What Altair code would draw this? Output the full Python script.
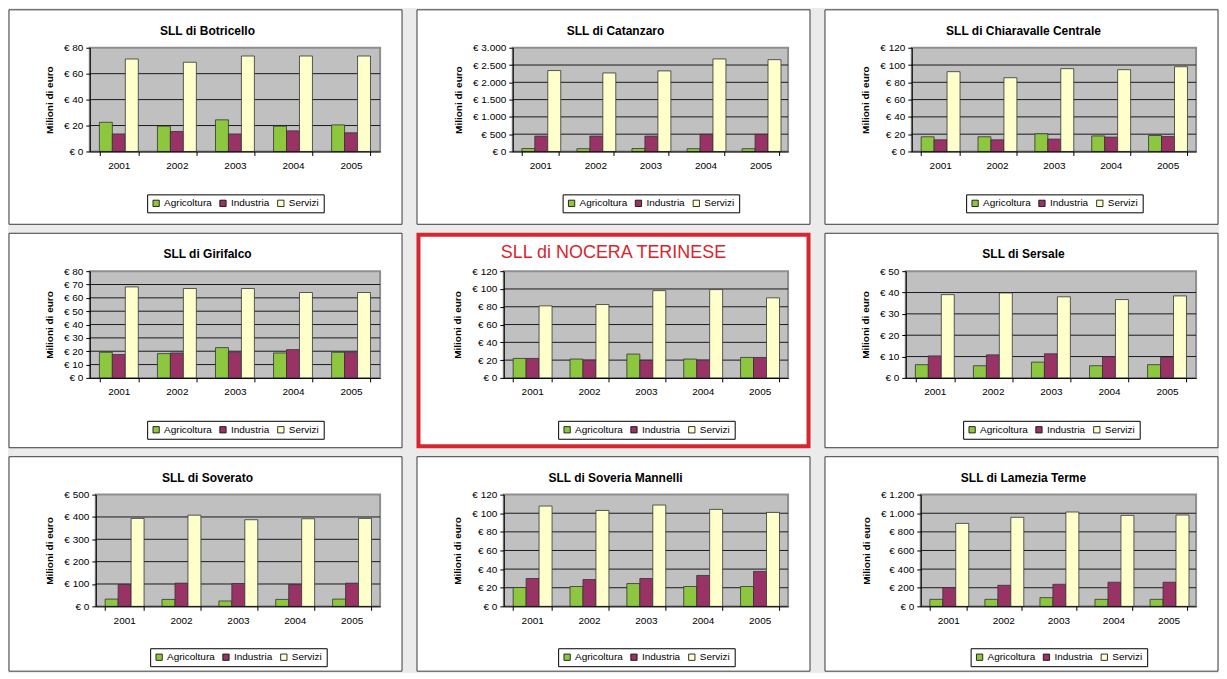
import altair as alt
import pandas as pd

years = ["2001", "2002", "2003", "2004", "2005"]
sectors = ["Agricoltura", "Industria", "Servizi"]
sector_colors = ["#8DC63F", "#993366", "#FFFFCC"]

titles = [
    "SLL di Botricello", "SLL di Catanzaro", "SLL di Chiaravalle Centrale",
    "SLL di Girifalco", "SLL di NOCERA TERINESE", "SLL di Sersale",
    "SLL di Soverato", "SLL di Soveria Mannelli", "SLL di Lamezia Terme",
]

agricoltura = [
    [22.5, 19.5, 24.4, 19.5, 20.5],
    [85, 80, 85, 80, 80],
    [17, 17, 20.5, 18, 18.5],
    [19.2, 18.2, 22.7, 18.7, 19.2],
    [21.9, 21.2, 26.8, 21.2, 23],
    [6.2, 5.7, 7.4, 5.7, 6.2],
    [32.5, 31, 24, 31, 32.5],
    [20.2, 21.3, 24.5, 21.3, 21.3],
    [75, 75, 93, 75, 75],
]
industria = [
    [13.5, 15.4, 13.5, 15.9, 14.4],
    [445, 445, 445, 495, 495],
    [13.5, 13.5, 14.3, 16.6, 17.4],
    [17.5, 18.7, 19.2, 21.2, 19.2],
    [21.9, 20, 19.7, 20, 23],
    [10.3, 10.8, 11.3, 9.9, 9.6],
    [97.6, 103.6, 102, 97.6, 103.6],
    [29.9, 28.8, 29.9, 33.2, 37.5],
    [201, 226, 237, 259, 259],
]
servizi = [
    [71.3, 68.8, 73.6, 73.6, 73.6],
    [2340, 2270, 2330, 2675, 2655],
    [92.3, 85.3, 95.8, 94.6, 98],
    [68.2, 67, 67, 64, 64],
    [81, 82.5, 98.1, 99.3, 90],
    [39, 39.8, 38, 36.7, 38.4],
    [393.5, 408, 387.6, 392, 393.5],
    [107.7, 103, 108.8, 104.1, 100.9],
    [891, 956, 1013, 977, 981],
]
y_ticks = [
    [0, 20, 40, 60, 80],
    [0, 500, 1000, 1500, 2000, 2500, 3000],
    [0, 20, 40, 60, 80, 100, 120],
    [0, 10, 20, 30, 40, 50, 60, 70, 80],
    [0, 20, 40, 60, 80, 100, 120],
    [0, 10, 20, 30, 40, 50],
    [0, 100, 200, 300, 400, 500],
    [0, 20, 40, 60, 80, 100, 120],
    [0, 200, 400, 600, 800, 1000, 1200],
]

FW, FH = 394, 215          # panel frame size
T, R = 38, 22              # plot-area top offset and right margin inside frame
ROW_H = [104, 107, 112]    # plot-area height per row
LEG_GAP = [43, 43, 42]     # gap between plot bottom and legend box per row
FONT = "Liberation Sans"


def fmt(v):
    return "€ " + f"{v:,}".replace(",", ".")


def panel(i):
    ticks = y_ticks[i]
    ymax = ticks[-1]
    nchar = max(len(fmt(t)) for t in ticks)
    L = {4: 81, 5: 87, 6: 92, 7: 96}[nchar]
    W = FW - L - R
    H = ROW_H[i // 3]
    highlight = i == 4
    sw = 4 if highlight else 1
    inset = (sw - 1) / 2

    rows = []
    for series, name in zip([agricoltura, industria, servizi], sectors):
        for y, v in zip(years, series[i]):
            rows.append({"year": y, "sector": name, "value": v})
    df = pd.DataFrame(rows)
    grid_df = pd.DataFrame({"value": ticks[1:-1]})
    one = pd.DataFrame({"a": [0]})
    yscale = alt.Scale(domain=[0, ymax], nice=False, zero=True, range=[T + H, T])
    yaxis = alt.Axis(
        values=ticks,
        labelExpr="'€ ' + replace(format(datum.value, ','), ',', '.')",
        grid=False, tickSize=4, tickColor="black", domainColor="black",
        labelFontSize=10, labelColor="black", labelPadding=3,
        title="Milioni di euro", titleFontSize=10, titleFontWeight="bold",
        titleColor="black", titlePadding=9, zindex=1, offset=-L,
    )

    frame = alt.Chart(one).mark_rect(
        fill="white", stroke="#D7262E" if highlight else "#3a3a3a", strokeWidth=sw
    ).encode(
        x=alt.value(inset), x2=alt.value(FW - inset),
        y=alt.value(inset), y2=alt.value(FH - inset),
    )
    bg = alt.Chart(one).mark_rect(
        fill="#C0C0C0", stroke="#8E8E8E", strokeWidth=2
    ).encode(
        x=alt.value(L), x2=alt.value(L + W), y=alt.value(T), y2=alt.value(T + H)
    )
    grid = alt.Chart(grid_df).mark_rule(color="#1a1a1a", strokeWidth=1).encode(
        y=alt.Y("value:Q", scale=yscale, axis=yaxis),
        x=alt.value(L), x2=alt.value(L + W),
    )
    bars = alt.Chart(df).mark_bar(stroke="#333333", strokeWidth=0.8).encode(
        x=alt.X(
            "year:N", sort=years,
            scale=alt.Scale(paddingInner=0.33, paddingOuter=0.165, range=[L, L + W]),
            axis=alt.Axis(
                title=None, labelAngle=0, tickBand="extent", tickSize=4,
                tickColor="black", domainColor="black", labelFontSize=10,
                labelColor="black", labelPadding=5, zindex=1, grid=False,
                offset=-(FH - T - H),
            ),
        ),
        xOffset=alt.XOffset(
            "sector:N", sort=sectors,
            scale=alt.Scale(domain=sectors, paddingInner=0, paddingOuter=0),
        ),
        y=alt.Y("value:Q", scale=yscale, axis=yaxis),
        color=alt.Color(
            "sector:N",
            scale=alt.Scale(domain=sectors, range=sector_colors),
            legend=alt.Legend(
                orient="none", legendX=L + W / 2 - 88,
                legendY=T + H + LEG_GAP[i // 3],
                direction="horizontal", title=None, strokeColor="black",
                fillColor="white", padding=4, symbolType="square",
                symbolSize=40, symbolStrokeColor="black", symbolStrokeWidth=0.8,
                labelFontSize=10, labelColor="black", labelOffset=3,
                columnPadding=6,
            ),
        ),
    )
    if highlight:
        title = alt.Chart(one).mark_text(
            text=titles[i], font=FONT, fontSize=18, color="#D7262E",
            align="center", baseline="middle",
        ).encode(x=alt.value(FW / 2), y=alt.value(20))
    else:
        title = alt.Chart(one).mark_text(
            text=titles[i], font=FONT, fontSize=12, fontWeight="bold",
            color="black", align="center", baseline="middle",
        ).encode(x=alt.value(FW / 2 + 2), y=alt.value(21))

    return alt.layer(frame, bg, grid, bars, title).properties(width=FW, height=FH)


chart = alt.concat(
    *[panel(i) for i in range(9)],
    columns=3,
    spacing=alt.RowColnumber(row=7, column=13),
).resolve_scale(color="independent").resolve_legend(color="independent").configure(
    font=FONT, background="#EBEBEB", padding=0
).configure_view(strokeWidth=0)

chart.save("out.html", embed_options={"renderer": "svg", "actions": False})
